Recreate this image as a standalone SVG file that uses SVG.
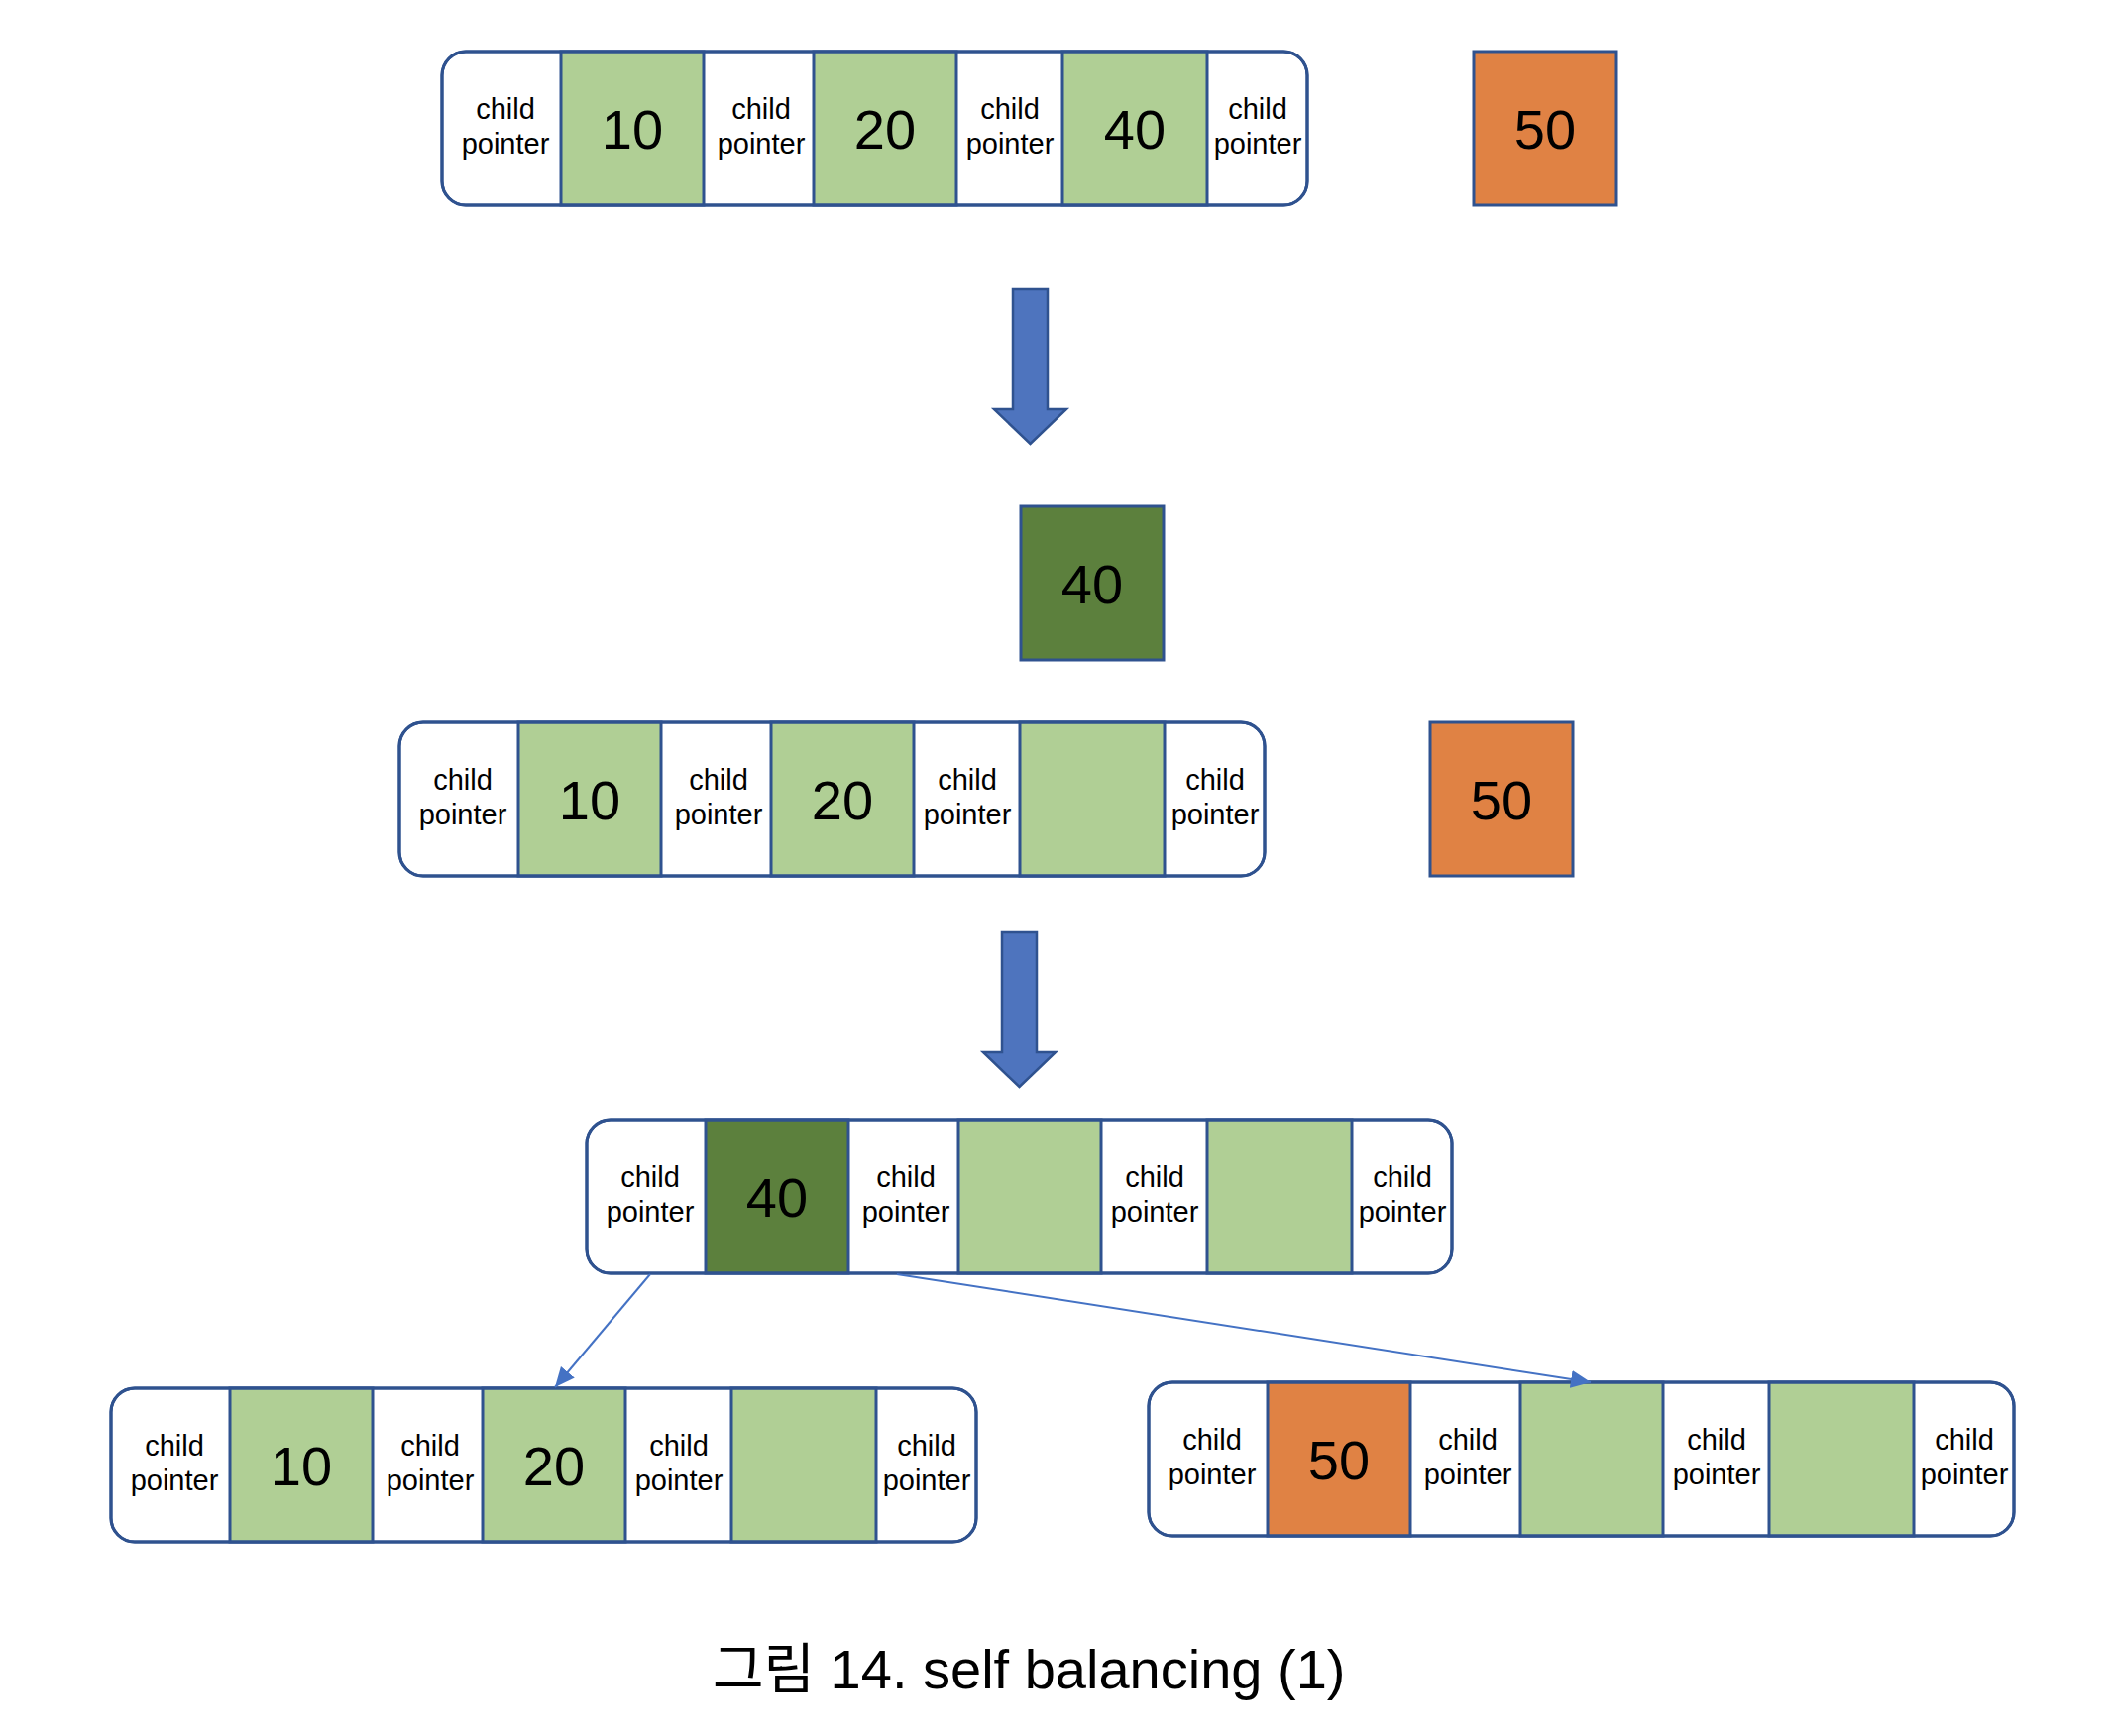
<svg xmlns="http://www.w3.org/2000/svg" width="2134" height="1752" viewBox="0 0 2134 1752">
<defs>
<style>
.frame{fill:#ffffff;stroke:#2F528F;stroke-width:3}
.outline{fill:none;stroke:#2F528F;stroke-width:3}
.lg{fill:#B0CF95;stroke:#2F528F;stroke-width:3}
.dg{fill:#5C803D;stroke:#2F528F;stroke-width:3}
.or{fill:#E08244;stroke:#2F528F;stroke-width:3}
.cp{font-family:"Liberation Sans",Arial,sans-serif;font-size:29px;fill:#000;text-anchor:middle}
.num{font-family:"Liberation Sans",Arial,sans-serif;font-size:56px;fill:#000;text-anchor:middle}
.cap{font-family:"Liberation Sans","Noto Sans CJK KR",sans-serif;font-size:56px;fill:#000}
.blk{fill:#4E74BE;stroke:#2F528F;stroke-width:2.5}
.conn{fill:none;stroke:#4472C4;stroke-width:2}
</style>
<marker id="ah" markerUnits="userSpaceOnUse" markerWidth="22" markerHeight="20" refX="20" refY="9" orient="auto">
<path d="M0,0 L20,9 L0,18 Z" fill="#4472C4"/>
</marker>
<path id="bigarrow" d="M-17.5,-156 H17.5 V-35 H36.5 L0,0 L-36.5,-35 H-17.5 Z"/>
</defs>
<rect width="2134" height="1752" fill="#ffffff"/>

<!-- Top row -->
<g id="node-top" transform="translate(446,52)">
<rect class="frame" x="0" y="0" width="873" height="155" rx="24"/>
<rect class="lg" x="120" y="0" width="144" height="155"/>
<rect class="lg" x="375" y="0" width="144" height="155"/>
<rect class="lg" x="626" y="0" width="146" height="155"/>
<rect class="outline" x="0" y="0" width="873" height="155" rx="24"/>
<text class="cp" x="64" y="68">child</text><text class="cp" x="64" y="103">pointer</text>
<text class="cp" x="322" y="68">child</text><text class="cp" x="322" y="103">pointer</text>
<text class="cp" x="573" y="68">child</text><text class="cp" x="573" y="103">pointer</text>
<text class="cp" x="823" y="68">child</text><text class="cp" x="823" y="103">pointer</text>
<text class="num" x="192" y="98">10</text>
<text class="num" x="447" y="98">20</text>
<text class="num" x="699" y="98">40</text>
</g>

<g id="node-50-top">
<rect class="or" x="1487" y="52" width="144" height="155"/>
<text class="num" x="1559" y="150">50</text>
</g>

<g id="arrow-1">
<use href="#bigarrow" class="blk" transform="translate(1039.5,448)"/>
</g>

<g id="node-40-up">
<rect class="dg" x="1030" y="511" width="144" height="155"/>
<text class="num" x="1102" y="609">40</text>
</g>

<!-- Middle row -->
<g id="node-middle" transform="translate(403,729)">
<rect class="frame" x="0" y="0" width="873" height="155" rx="24"/>
<rect class="lg" x="120" y="0" width="144" height="155"/>
<rect class="lg" x="375" y="0" width="144" height="155"/>
<rect class="lg" x="626" y="0" width="146" height="155"/>
<rect class="outline" x="0" y="0" width="873" height="155" rx="24"/>
<text class="cp" x="64" y="68">child</text><text class="cp" x="64" y="103">pointer</text>
<text class="cp" x="322" y="68">child</text><text class="cp" x="322" y="103">pointer</text>
<text class="cp" x="573" y="68">child</text><text class="cp" x="573" y="103">pointer</text>
<text class="cp" x="823" y="68">child</text><text class="cp" x="823" y="103">pointer</text>
<text class="num" x="192" y="98">10</text>
<text class="num" x="447" y="98">20</text>
</g>

<g id="node-50-middle">
<rect class="or" x="1443" y="729" width="144" height="155"/>
<text class="num" x="1515" y="827">50</text>
</g>

<g id="arrow-2">
<use href="#bigarrow" class="blk" transform="translate(1028.5,1097)"/>
</g>

<!-- Center row -->
<g id="node-center" transform="translate(592,1130)">
<rect class="frame" x="0" y="0" width="873" height="155" rx="24"/>
<rect class="dg" x="120" y="0" width="144" height="155"/>
<rect class="lg" x="375" y="0" width="144" height="155"/>
<rect class="lg" x="626" y="0" width="146" height="155"/>
<rect class="outline" x="0" y="0" width="873" height="155" rx="24"/>
<text class="cp" x="64" y="68">child</text><text class="cp" x="64" y="103">pointer</text>
<text class="cp" x="322" y="68">child</text><text class="cp" x="322" y="103">pointer</text>
<text class="cp" x="573" y="68">child</text><text class="cp" x="573" y="103">pointer</text>
<text class="cp" x="823" y="68">child</text><text class="cp" x="823" y="103">pointer</text>
<text class="num" x="192" y="98">40</text>
</g>

<!-- Bottom left -->
<g id="node-bottom-left" transform="translate(112,1401)">
<rect class="frame" x="0" y="0" width="873" height="155" rx="24"/>
<rect class="lg" x="120" y="0" width="144" height="155"/>
<rect class="lg" x="375" y="0" width="144" height="155"/>
<rect class="lg" x="626" y="0" width="146" height="155"/>
<rect class="outline" x="0" y="0" width="873" height="155" rx="24"/>
<text class="cp" x="64" y="68">child</text><text class="cp" x="64" y="103">pointer</text>
<text class="cp" x="322" y="68">child</text><text class="cp" x="322" y="103">pointer</text>
<text class="cp" x="573" y="68">child</text><text class="cp" x="573" y="103">pointer</text>
<text class="cp" x="823" y="68">child</text><text class="cp" x="823" y="103">pointer</text>
<text class="num" x="192" y="98">10</text>
<text class="num" x="447" y="98">20</text>
</g>

<!-- Bottom right -->
<g id="node-bottom-right" transform="translate(1159,1395)">
<rect class="frame" x="0" y="0" width="873" height="155" rx="24"/>
<rect class="or" x="120" y="0" width="144" height="155"/>
<rect class="lg" x="375" y="0" width="144" height="155"/>
<rect class="lg" x="626" y="0" width="146" height="155"/>
<rect class="outline" x="0" y="0" width="873" height="155" rx="24"/>
<text class="cp" x="64" y="68">child</text><text class="cp" x="64" y="103">pointer</text>
<text class="cp" x="322" y="68">child</text><text class="cp" x="322" y="103">pointer</text>
<text class="cp" x="573" y="68">child</text><text class="cp" x="573" y="103">pointer</text>
<text class="cp" x="823" y="68">child</text><text class="cp" x="823" y="103">pointer</text>
<text class="num" x="192" y="98">50</text>
</g>

<g id="connectors">
<line class="conn" x1="656" y1="1286" x2="560" y2="1400" marker-end="url(#ah)"/>
<line class="conn" x1="905" y1="1286" x2="1605" y2="1395" marker-end="url(#ah)"/>
</g>

<g id="caption">
<text class="cap" x="719" y="1704">그림 14. self balancing (1)</text>
</g>
</svg>
